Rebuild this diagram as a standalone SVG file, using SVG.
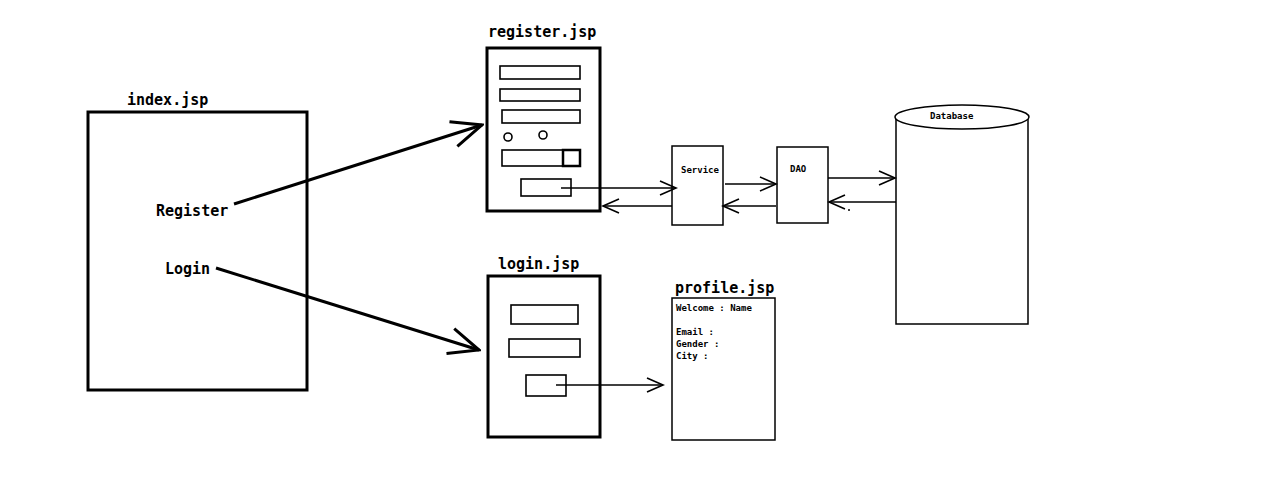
<svg xmlns="http://www.w3.org/2000/svg" width="1280" height="490" viewBox="0 0 1280 490">
  <style>
    .title { font-family: "DejaVu Sans Mono", "Liberation Mono", monospace; font-weight: bold; font-size: 15px; fill: #000; }
    .small { font-family: "DejaVu Sans Mono", "Liberation Mono", monospace; font-weight: bold; font-size: 9px; fill: #000; }
    .page { fill: #fff; stroke: #000; stroke-width: 3; }
    .thin { fill: #fff; stroke: #000; stroke-width: 1.5; }
    .field { fill: #fff; stroke: #000; stroke-width: 1.6; }
    .link { fill: none; stroke: #000; stroke-width: 1.6; }
    .bold-link { fill: none; stroke: #000; stroke-width: 3; }
  </style>
  <defs>
    <marker id="bigArrow" viewBox="0 0 34 34" refX="32" refY="17" markerWidth="34" markerHeight="34" markerUnits="userSpaceOnUse" orient="auto">
      <polyline points="2,4 32,17 2,30" fill="none" stroke="#000" stroke-width="3"/>
    </marker>
    <marker id="arrow" viewBox="0 0 20 20" refX="18" refY="10" markerWidth="20" markerHeight="20" markerUnits="userSpaceOnUse" orient="auto">
      <polyline points="2,3 18,10 2,17" fill="none" stroke="#000" stroke-width="1.6"/>
    </marker>
  </defs>
  <rect width="1280" height="490" fill="#fff"/>

  <!-- index page -->
  <g id="index">
    <rect class="page" x="88" y="112" width="219" height="278"/>
    <text class="title" x="127" y="105">index.jsp</text>
    <text class="title" x="156" y="216">Register</text>
    <text class="title" x="165" y="274">Login</text>
  </g>

  <!-- registration form -->
  <g id="register">
    <text class="title" x="488" y="37">register.jsp</text>
    <rect class="page" x="487" y="48" width="113" height="163"/>
    <rect class="field" x="500" y="66" width="80" height="13"/>
    <rect class="field" x="500" y="89" width="80" height="12"/>
    <rect class="field" x="502" y="110" width="78" height="13"/>
    <circle class="field" cx="508" cy="137" r="4"/>
    <circle class="field" cx="543" cy="135" r="4"/>
    <rect class="field" x="502" y="150" width="78" height="16"/>
    <rect x="563" y="150" width="17" height="16" fill="#fff" stroke="#000" stroke-width="2.5"/>
    <rect class="field" x="521" y="179" width="50" height="17"/>
  </g>

  <!-- login form -->
  <g id="login">
    <text class="title" x="498" y="269">login.jsp</text>
    <rect class="page" x="488" y="276" width="112" height="161"/>
    <rect class="field" x="511" y="305" width="67" height="19"/>
    <rect class="field" x="509" y="339" width="71" height="18"/>
    <rect class="field" x="526" y="375" width="40" height="21"/>
  </g>

  <!-- profile page -->
  <g id="profile">
    <text class="title" x="675" y="293">profile.jsp</text>
    <rect class="thin" x="672" y="298" width="103" height="142"/>
    <text class="small" x="676" y="311">Welcome : Name</text>
    <text class="small" x="676" y="335">Email :</text>
    <text class="small" x="676" y="347">Gender :</text>
    <text class="small" x="676" y="359">City :</text>
  </g>

  <!-- service layer -->
  <g id="service">
    <rect class="thin" x="672" y="146" width="51" height="79"/>
    <text class="small" x="681" y="173">Service</text>
  </g>

  <!-- data access layer -->
  <g id="dao">
    <rect class="thin" x="777" y="147" width="51" height="76"/>
    <text class="small" x="790" y="172">DAO</text>
  </g>

  <!-- database cylinder -->
  <g id="database">
    <path class="thin" d="M896,117 L896,324 L1028,324 L1028,117"/>
    <ellipse class="thin" cx="962" cy="117" rx="67" ry="12"/>
    <text class="small" x="930" y="119" font-size="8">Database</text>
  </g>

  <!-- connectors -->
  <g id="connectors">
    <line class="bold-link" x1="234" y1="204" x2="482" y2="125" marker-end="url(#bigArrow)"/>
    <line class="bold-link" x1="216" y1="268" x2="479" y2="350" marker-end="url(#bigArrow)"/>
    <line class="link" x1="561" y1="188" x2="676" y2="188" marker-end="url(#arrow)"/>
    <line class="link" x1="672" y1="206" x2="603" y2="206" marker-end="url(#arrow)"/>
    <line class="link" x1="725" y1="184" x2="776" y2="184" marker-end="url(#arrow)"/>
    <line class="link" x1="776" y1="206" x2="723" y2="206" marker-end="url(#arrow)"/>
    <line class="link" x1="828" y1="178" x2="895" y2="178" marker-end="url(#arrow)"/>
    <line class="link" x1="896" y1="202" x2="829" y2="202" marker-end="url(#arrow)"/>
    <circle cx="849" cy="210" r="1" fill="#000"/>
    <line class="link" x1="556" y1="385" x2="663" y2="385" marker-end="url(#arrow)"/>
  </g>
</svg>
